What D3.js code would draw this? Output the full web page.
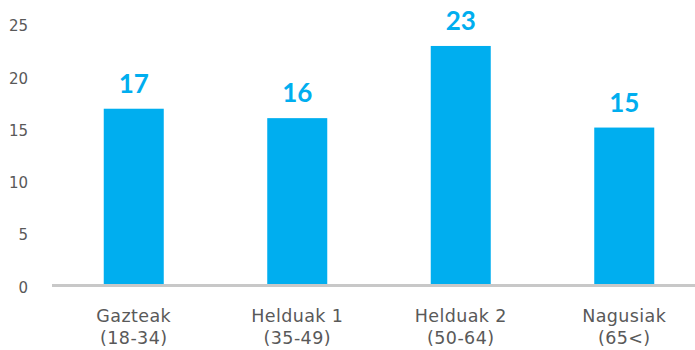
<!DOCTYPE html>
<html>
<head>
<meta charset="utf-8">
<script src="https://cdn.jsdelivr.net/npm/d3@7"></script>
<style>
  body { margin: 0; background: #fff; }
  svg { display: block; }
</style>
</head>
<body>
<div id="chart"></div>
<script>
// data
const groups = ["Gazteak", "Helduak 1", "Helduak 2", "Nagusiak"];
const ranges = ["(18-34)", "(35-49)", "(50-64)", "(65<)"];
const values = [16.9, 16.0, 22.9, 15.1];
const valueLabels = ["17", "16", "23", "15"];
const yTicks = [0, 5, 10, 15, 20, 25];

const width = 695, height = 350;
const textFont = "'DejaVu Sans', 'Noto Sans', sans-serif";
const boldFont = "'Lato', 'Noto Sans', sans-serif";

const svg = d3.select("#chart").append("svg")
    .attr("width", width)
    .attr("height", height)
    .style("background-color", "white");

const x = d3.scaleBand()
    .domain(groups)
    .range([52, 706])
    .paddingInner(0.633)
    .paddingOuter(0.3165);

const y = d3.scaleLinear()
    .domain([0, 25])
    .range([285.5, 24]);

// y axis labels only
const yAxis = d3.axisLeft(y)
    .tickValues(yTicks)
    .tickSize(0)
    .tickPadding(0);

svg.append("g")
    .attr("class", "axis yAxis")
    .attr("transform", "translate(28, 0)")
    .call(yAxis)
    .call(g => g.select(".domain").remove())
    .selectAll(".tick text")
    .attr("dy", "0.45em")
    .style("font-family", textFont)
    .style("font-size", "15px")
    .style("fill", "#595959");

// bars
svg.append("g").selectAll("rect")
    .data(values)
    .enter()
    .append("rect")
    .attr("fill", "#00AEEF")
    .attr("x", (d, i) => x(groups[i]))
    .attr("width", x.bandwidth())
    .attr("y", d => y(d))
    .attr("height", d => y(0) - y(d));

// baseline
svg.append("line")
    .attr("x1", 52)
    .attr("x2", width)
    .attr("y1", y(0))
    .attr("y2", y(0))
    .attr("stroke", "#c8c8c8")
    .attr("stroke-width", 3);

// value labels
svg.append("g").selectAll("text")
    .data(values)
    .enter()
    .append("text")
    .attr("x", (d, i) => x(groups[i]) + x.bandwidth() / 2)
    .attr("y", d => y(d) - 16)
    .attr("text-anchor", "middle")
    .style("font-family", boldFont)
    .style("font-size", "26px")
    .style("font-weight", "bold")
    .style("fill", "#00AEEF")
    .text((d, i) => valueLabels[i]);

// category labels, two lines
const cat = svg.append("g").selectAll("text")
    .data(groups)
    .enter()
    .append("text")
    .attr("text-anchor", "middle")
    .style("font-family", textFont)
    .style("font-size", "17.5px")
    .style("letter-spacing", "0.4px")
    .style("fill", "#595959");

cat.append("tspan")
    .attr("x", d => x(d) + x.bandwidth() / 2)
    .attr("y", 322)
    .text(d => d);

cat.append("tspan")
    .attr("x", d => x(d) + x.bandwidth() / 2)
    .attr("y", 344)
    .text((d, i) => ranges[i]);
</script>
</body>
</html>
